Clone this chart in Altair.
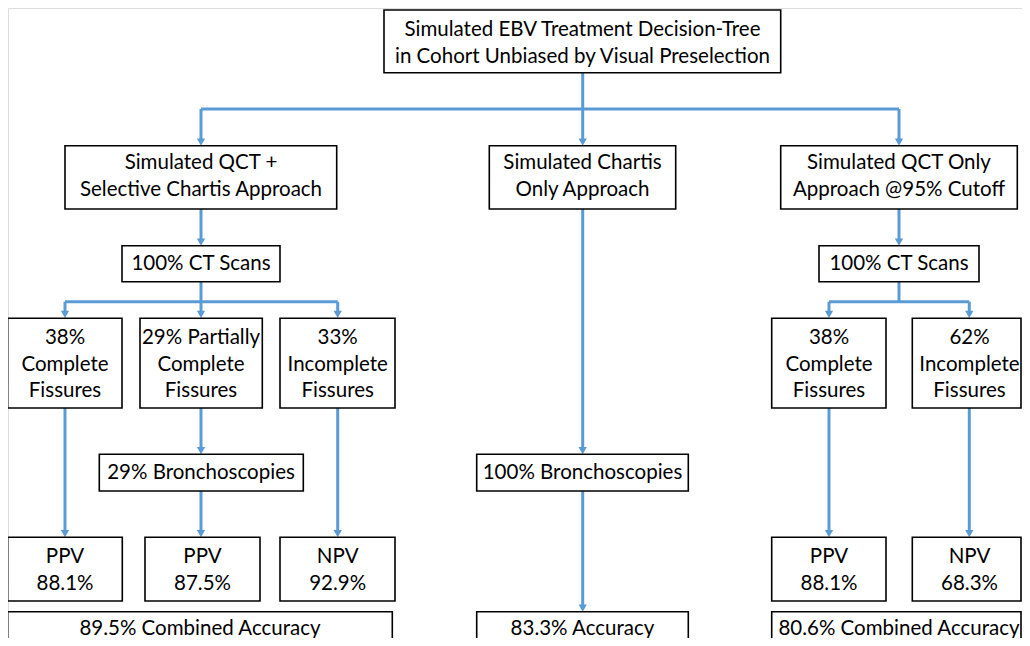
import altair as alt
import pandas as pd

# ---- content ----
box_labels = [
    "Simulated EBV Treatment Decision-Tree\nin Cohort Unbiased by Visual Preselection",
    "Simulated QCT +\nSelective Chartis Approach",
    "Simulated Chartis\nOnly Approach",
    "Simulated QCT Only\nApproach @95% Cutoff",
    "100% CT Scans",
    "100% CT Scans",
    "38%\nComplete\nFissures",
    "29% Partially\nComplete\nFissures",
    "33%\nIncomplete\nFissures",
    "38%\nComplete\nFissures",
    "62%\nIncomplete\nFissures",
    "29% Bronchoscopies",
    "100% Bronchoscopies",
    "PPV\n88.1%",
    "PPV\n87.5%",
    "NPV\n92.9%",
    "PPV\n88.1%",
    "NPV\n68.3%",
    "89.5% Combined Accuracy",
    "83.3% Accuracy",
    "80.6% Combined Accuracy",
]

# ---- layout (pixel coordinates of the diagram) ----
box_x1 = [384, 65, 489.3, 780.7, 122, 819, 7.7, 140, 280, 771.7, 912.3, 99.3, 476.7,
          7.7, 145, 280, 771.7, 912.3, 7.7, 476.7, 771.7]
box_x2 = [780.7, 336.7, 675.7, 1017.3, 280, 979, 122, 262.3, 395, 886, 1021, 303.3, 688.3,
          122.3, 260, 395, 886, 1021, 392.3, 688.3, 1021]
box_y1 = [10, 145.7, 145.7, 145.7, 245.7, 245.7, 318.3, 318.3, 318.3, 318.3, 318.3, 454.3, 454.3,
          537.3, 537.3, 537.3, 537.3, 537.3, 611.7, 611.7, 611.7]
box_y2 = [72.7, 209, 209, 209, 281.7, 281.7, 408, 408, 408, 408, 408, 491, 491,
          601, 601, 601, 601, 601, 660, 660, 660]
# text anchor x (box centre) and y of the first text line in each box
text_x = [582.5, 201, 582.5, 899, 201, 899, 65, 201, 337.7, 829, 969.5, 201, 582.5,
          65, 202.5, 337.7, 829, 969.5, 200, 582.5, 899]
text_y = [30, 163, 163, 163, 264, 264, 338, 338, 338, 338, 338, 473, 473,
          557, 557, 557, 557, 557, 629, 629, 629]

# connector segments (x1, y1, x2, y2)
seg_x1 = [582.7, 201, 201, 582.7, 899,
          201, 201, 65, 65, 201, 337.7,
          65, 201, 201, 337.7,
          582.7, 582.7,
          899, 899, 829, 829, 969.3, 829, 969.3]
seg_y1 = [72.7, 109, 109, 109, 109,
          209, 281.7, 301.7, 301.7, 301.7, 301.7,
          408, 408, 491, 408,
          209, 491,
          209, 281.7, 301.7, 301.7, 301.7, 408, 408]
seg_x2 = [582.7, 899, 201, 582.7, 899,
          201, 201, 337.7, 65, 201, 337.7,
          65, 201, 201, 337.7,
          582.7, 582.7,
          899, 899, 969.3, 829, 969.3, 829, 969.3]
seg_y2 = [109, 109, 140, 140, 140,
          240, 301.7, 301.7, 312, 312, 312,
          531, 448, 531, 531,
          448, 605,
          240, 301.7, 301.7, 312, 312, 531, 531]

# arrow tips (x, y)
tip_x = [201, 582.7, 899, 201, 899, 65, 201, 337.7, 829, 969.3, 201, 582.7,
         65, 201, 337.7, 829, 969.3, 582.7]
tip_y = [145.7, 145.7, 145.7, 245.7, 245.7, 318, 318, 318, 318, 318, 454.3, 454.3,
         537.3, 537.3, 537.3, 537.3, 537.3, 611.7]

BLUE = "#5B9BD5"
FONT = "Lato"

boxes = pd.DataFrame({
    "label": box_labels, "x1": box_x1, "x2": box_x2, "y1": box_y1, "y2": box_y2,
    "tx": text_x, "ty": text_y,
})
segs = pd.DataFrame({"x1": seg_x1, "y1": seg_y1, "x2": seg_x2, "y2": seg_y2})
tips = pd.DataFrame({"x": tip_x, "y": [t - 3.6 for t in tip_y]})

xs = alt.Scale(domain=[8, 1022], nice=False, zero=False)
ys = alt.Scale(domain=[8, 638], nice=False, zero=False, reverse=True)
noax = None

lines = alt.Chart(segs).mark_rule(color=BLUE, strokeWidth=3, clip=True).encode(
    x=alt.X("x1:Q", scale=xs, axis=noax), x2="x2:Q",
    y=alt.Y("y1:Q", scale=ys, axis=noax), y2="y2:Q",
)
heads = alt.Chart(tips).mark_point(shape="triangle-down", filled=True, size=70,
                                   color=BLUE, opacity=1, clip=True).encode(
    x=alt.X("x:Q", scale=xs, axis=noax),
    y=alt.Y("y:Q", scale=ys, axis=noax),
)
rects = alt.Chart(boxes).mark_rect(fill="white", stroke="black", strokeWidth=1.6,
                                   clip=True).encode(
    x=alt.X("x1:Q", scale=xs, axis=noax), x2="x2:Q",
    y=alt.Y("y1:Q", scale=ys, axis=noax), y2="y2:Q",
)
texts = alt.Chart(boxes).mark_text(font=FONT, fontSize=20.5, lineBreak="\n", lineHeight=26.5,
                                   align="center", baseline="middle", color="black"
                                   ).encode(
    x=alt.X("tx:Q", scale=xs, axis=noax),
    y=alt.Y("ty:Q", scale=ys, axis=noax),
    text="label:N",
)

chart = alt.layer(lines, heads, rects, texts).properties(
    width=1014, height=630, padding=0,
    autosize=alt.AutoSizeParams(type="none"),
).configure_view(stroke=None).configure(background="white")

chart.save("out.html", embed_options={"renderer": "svg", "actions": False})
